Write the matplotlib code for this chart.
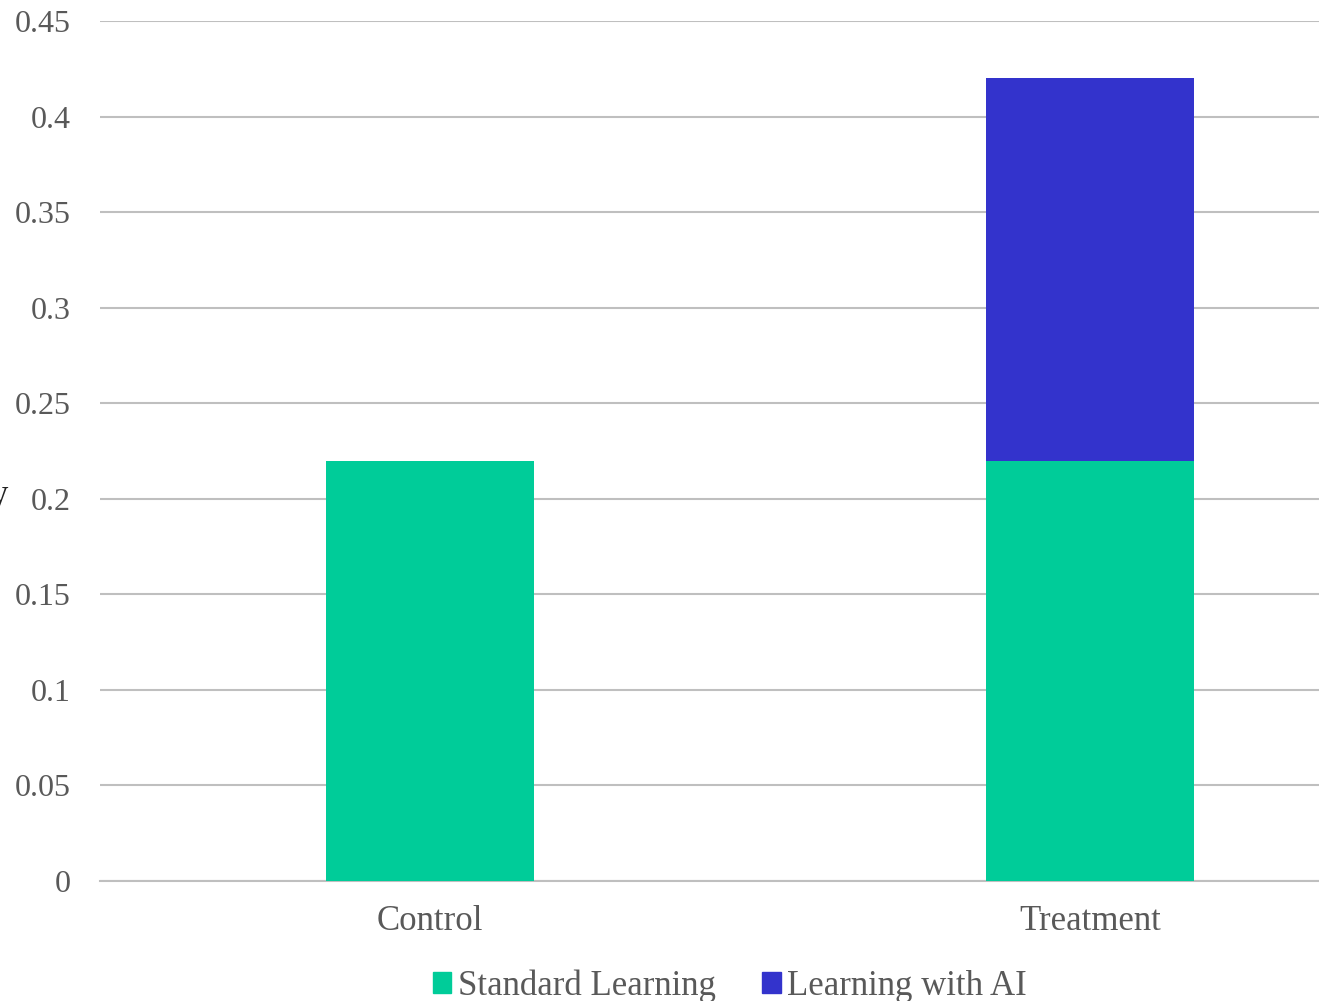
import matplotlib
matplotlib.use("Agg")
import matplotlib.pyplot as plt
from matplotlib.patches import Patch

categories = ["Control", "Treatment"]
standard = [0.22, 0.22]
with_ai = [0.0, 0.20]
yticks = [0, 0.05, 0.1, 0.15, 0.2, 0.25, 0.3, 0.35, 0.4, 0.45]
ytick_labels = ["0", "0.05", "0.1", "0.15", "0.2", "0.25", "0.3", "0.35", "0.4", "0.45"]

green = "#00CC99"
blue = "#3333CC"
text_color = "#595959"
grid_color = "#BFBFBF"

plt.rcParams["font.family"] = ["Liberation Serif", "DejaVu Serif"]

fig = plt.figure(figsize=(13.19, 10.01), dpi=100)
W, H = 1319, 1001
# axes runs past the right edge of the figure, as in the reference
ax = fig.add_axes([100 / W, 1 - 881 / H, 1320 / W, 860 / H])

x = range(len(categories))
ax.bar(x, standard, width=0.314, color=green, zorder=3)
ax.bar(x, with_ai, width=0.314, bottom=standard, color=blue, zorder=3)

ax.set_xlim(-0.5, 1.5)
ax.set_ylim(0, 0.45)
ax.set_yticks(yticks)
ax.set_yticklabels(ytick_labels)
ax.set_xticks(list(x))
ax.set_xticklabels(categories)
ax.tick_params(axis="both", length=0, colors=text_color)
ax.tick_params(axis="y", pad=21, labelsize=23)
ax.tick_params(axis="x", pad=17, labelsize=25)

ax.yaxis.grid(True, color=grid_color, linewidth=1.5, zorder=0)
for s in ["top", "right", "left"]:
    ax.spines[s].set_visible(False)
ax.spines["bottom"].set_color(grid_color)
ax.spines["bottom"].set_linewidth(1.5)

# axis title, clipped by the left edge of the image
fig.text(8 / W, 1 - 496 / H, "y", ha="right", va="center",
         fontsize=25, color="#222222")

handles = [Patch(color=green, label="Standard Learning"),
           Patch(color=blue, label="Learning with AI")]
fig.legend(handles=handles, loc="center", bbox_to_anchor=(730 / W, 1 - 986 / H),
           ncol=2, frameon=False, fontsize=25, labelcolor=text_color,
           handlelength=0.52, handleheight=0.52, handletextpad=0.2,
           columnspacing=1.35)

fig.savefig("out.png", dpi=100)
